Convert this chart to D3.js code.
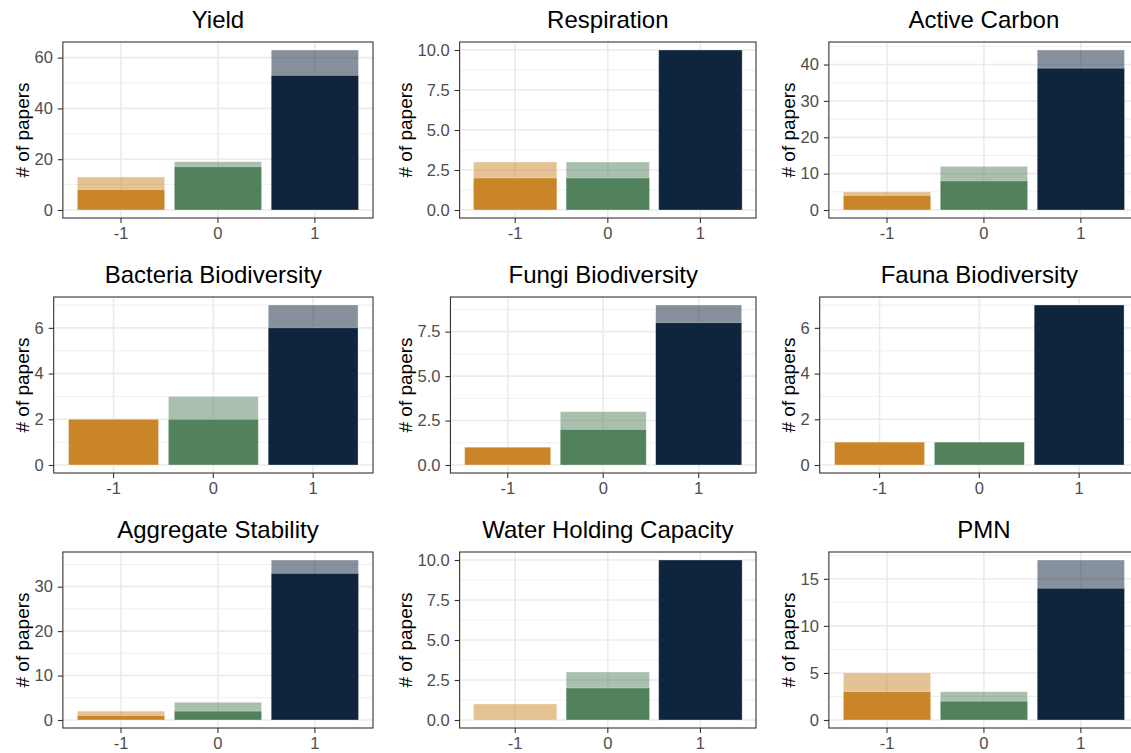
<!DOCTYPE html>
<html>
<head>
<meta charset="utf-8">
<script src="https://cdn.jsdelivr.net/npm/d3@7"></script>
<style>
  body { margin: 0; background: #fff; }
  svg { display: block; font-family: "Liberation Sans", Arial, sans-serif; }
</style>
</head>
<body>
<div id="chart"></div>
<script>
// panel titles, in reading order
var titles = ["Yield", "Respiration", "Active Carbon",
  "Bacteria Biodiversity", "Fungi Biodiversity", "Fauna Biodiversity",
  "Aggregate Stability", "Water Holding Capacity", "PMN"];

var categories = ["-1", "0", "1"];

// all papers (light bars)
var totalPapers = [
  [13, 19, 63], [3, 3, 10], [5, 12, 44],
  [2, 3, 7], [1, 3, 9], [1, 1, 7],
  [2, 4, 36], [1, 3, 10], [5, 3, 17]
];
// subset (dark bars)
var subsetPapers = [
  [8, 17, 53], [2, 2, 10], [4, 8, 39],
  [2, 2, 6], [1, 2, 8], [1, 1, 7],
  [1, 2, 33], [0, 2, 10], [3, 2, 14]
];

var yTickLabels = [
  ["0", "20", "40", "60"], ["0.0", "2.5", "5.0", "7.5", "10.0"], ["0", "10", "20", "30", "40"],
  ["0", "2", "4", "6"], ["0.0", "2.5", "5.0", "7.5"], ["0", "2", "4", "6"],
  ["0", "10", "20", "30"], ["0.0", "2.5", "5.0", "7.5", "10.0"], ["0", "5", "10", "15"]
];

var colors = ["#CB8529", "#52825C", "#0F243D"];

var W = 1131, H = 753;
var cellW = 383, rowStep = 255, panelTop0 = 42, panelH = 176;
var tickFont = 16.5;

var svg = d3.select("#chart").append("svg")
  .attr("width", W)
  .attr("height", H);

// measure widest tick label
var probe = svg.append("text").attr("font-size", tickFont);
function textW(s) { probe.text(s); return probe.node().getComputedTextLength(); }

titles.forEach(function(title, i) {
  var col = i % 3, row = Math.floor(i / 3);
  var cellX = col * cellW;
  var labels = yTickLabels[i];
  var maxW = d3.max(labels, textW);
  var left = cellX + 44.5 + maxW;
  var right = cellX + 373;
  var top = panelTop0 + row * rowStep;
  var bottom = top + panelH;

  var maxV = d3.max(totalPapers[i]);
  var y = d3.scaleLinear()
    .domain([-0.05 * maxV, 1.05 * maxV])
    .range([bottom, top]);

  var x = d3.scaleBand()
    .domain(categories)
    .range([left, right])
    .paddingInner(0.1)
    .paddingOuter(0.15);

  var g = svg.append("g");

  g.append("rect")
    .attr("x", left).attr("y", top)
    .attr("width", right - left).attr("height", panelH)
    .attr("fill", "white");

  // minor grid
  var ticks = labels.map(Number);
  var step = ticks[1] - ticks[0];
  var minors = [];
  for (var k = -1; k < ticks.length; k++) {
    var m = ticks[0] + step * (k + 0.5);
    if (m > y.domain()[0] && m < y.domain()[1]) minors.push(m);
  }
  g.selectAll("line.minor").data(minors).enter().append("line")
    .attr("x1", left).attr("x2", right)
    .attr("y1", function(d) { return y(d); })
    .attr("y2", function(d) { return y(d); })
    .attr("stroke", "#EBEBEB").attr("stroke-width", 0.8);

  g.selectAll("line.major").data(ticks).enter().append("line")
    .attr("x1", left).attr("x2", right)
    .attr("y1", function(d) { return y(d); })
    .attr("y2", function(d) { return y(d); })
    .attr("stroke", "#EBEBEB").attr("stroke-width", 1.6);

  g.selectAll("line.vmajor").data(categories).enter().append("line")
    .attr("x1", function(d) { return x(d) + x.bandwidth() / 2; })
    .attr("x2", function(d) { return x(d) + x.bandwidth() / 2; })
    .attr("y1", top).attr("y2", bottom)
    .attr("stroke", "#EBEBEB").attr("stroke-width", 1.6);

  // light bars (all papers)
  g.selectAll("rect.total").data(totalPapers[i]).enter().append("rect")
    .attr("x", function(d, j) { return x(categories[j]); })
    .attr("width", x.bandwidth())
    .attr("y", function(d) { return y(d); })
    .attr("height", function(d) { return y(0) - y(d); })
    .attr("fill", function(d, j) { return colors[j]; })
    .attr("fill-opacity", 0.5)
    .attr("stroke", "white").attr("stroke-opacity", 0.5).attr("stroke-width", 0.6);

  // dark bars
  g.selectAll("rect.sub").data(subsetPapers[i]).enter().append("rect")
    .attr("x", function(d, j) { return x(categories[j]); })
    .attr("width", x.bandwidth())
    .attr("y", function(d) { return y(d); })
    .attr("height", function(d) { return y(0) - y(d); })
    .attr("fill", function(d, j) { return colors[j]; })
    .attr("stroke", function(d) { return d > 0 ? "white" : "none"; })
    .attr("stroke-opacity", 0.5).attr("stroke-width", 0.6);

  g.append("rect")
    .attr("x", left).attr("y", top)
    .attr("width", right - left).attr("height", panelH)
    .attr("fill", "none")
    .attr("stroke", "#333333").attr("stroke-width", 1.1);

  var yAxis = g.append("g")
    .attr("transform", "translate(" + left + ",0)")
    .call(d3.axisLeft(y).tickValues(ticks)
      .tickFormat(function(d, j) { return labels[j]; })
      .tickSize(5).tickPadding(5));
  var xAxis = g.append("g")
    .attr("transform", "translate(0," + bottom + ")")
    .call(d3.axisBottom(x).tickSize(5).tickPadding(4));

  [yAxis, xAxis].forEach(function(a) {
    a.select(".domain").remove();
    a.selectAll("line").attr("stroke", "#333333").attr("stroke-width", 1.1);
    a.selectAll("text")
      .attr("fill", "#4D4D4D")
      .attr("font-size", tickFont)
      .attr("font-family", "'Liberation Sans', Arial, sans-serif");
  });

  g.append("text")
    .attr("transform", "translate(" + (cellX + 29) + "," + ((top + bottom) / 2) + ") rotate(-90)")
    .attr("text-anchor", "middle")
    .attr("font-size", 19)
    .attr("fill", "black")
    .text("# of papers");

  g.append("text")
    .attr("x", (left + right) / 2)
    .attr("y", top - 14)
    .attr("text-anchor", "middle")
    .attr("font-size", 24)
    .attr("fill", "black")
    .text(title);
});

probe.remove();
</script>
</body>
</html>
